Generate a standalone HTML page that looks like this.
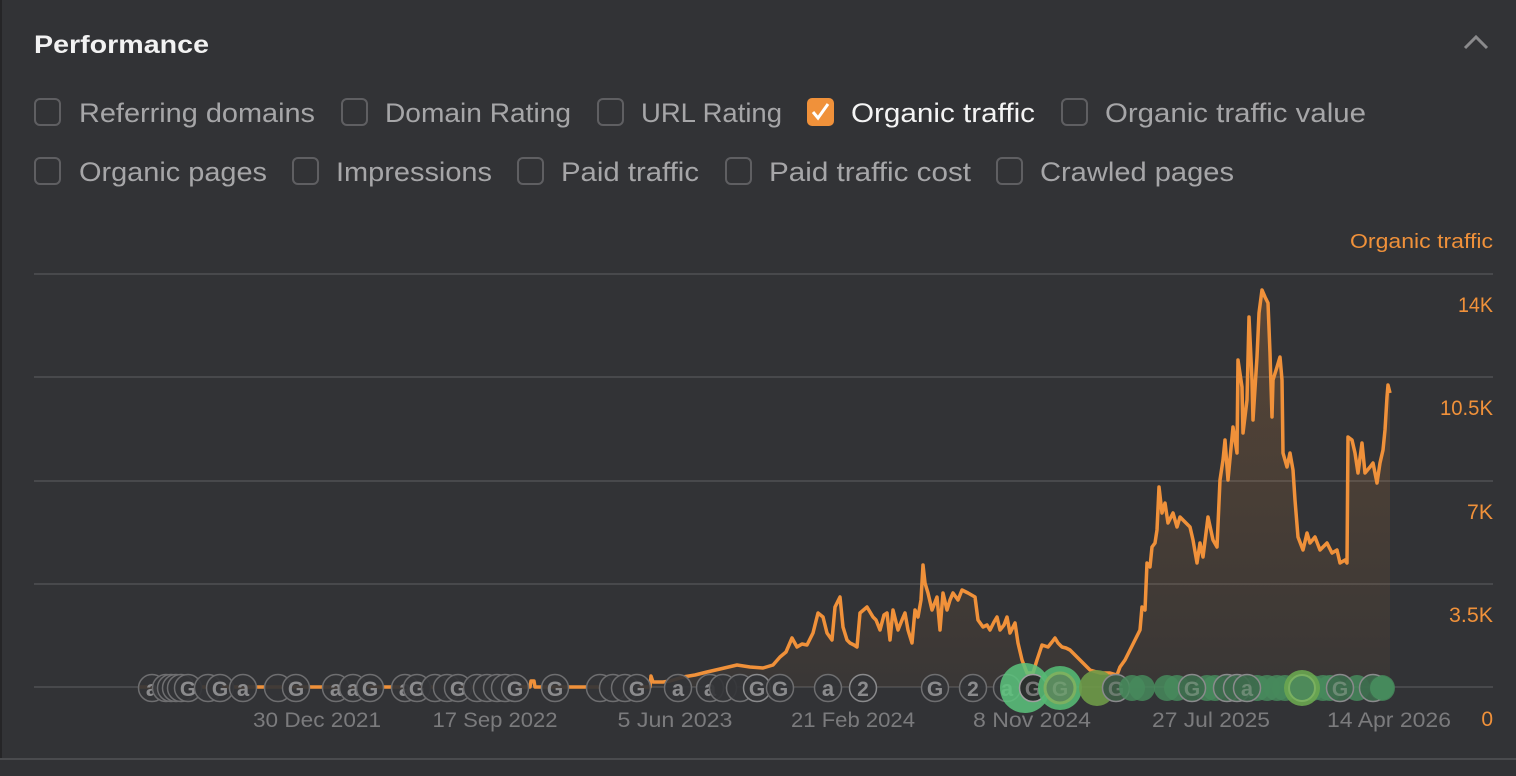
<!DOCTYPE html>
<html><head><meta charset="utf-8"><style>
html,body{margin:0;padding:0;background:#323336;width:1516px;height:776px;overflow:hidden}
svg{display:block}
text{font-family:"Liberation Sans",Arial,sans-serif}
.gm circle{fill:#333437;fill-opacity:0.92;stroke:#6e6e70;stroke-width:1.5}
.gm text{font-size:21px;font-weight:bold;fill:#8b8b8d;text-anchor:middle}
.gm text.a{font-size:22px}
</style></head><body>
<svg width="1516" height="776" viewBox="0 0 1516 776" xmlns="http://www.w3.org/2000/svg">
<defs>
<linearGradient id="ag" x1="0" y1="290" x2="0" y2="687" gradientUnits="userSpaceOnUse">
<stop offset="0" stop-color="#f0913a" stop-opacity="0.2"/>
<stop offset="1" stop-color="#f0913a" stop-opacity="0.04"/>
</linearGradient>
</defs>
<rect width="1516" height="776" fill="#323336"/>
<rect x="0" y="0" width="2" height="776" fill="#252527"/>
<rect x="0" y="758" width="1516" height="2" fill="#4a4b4e"/>
<rect x="0" y="760" width="1516" height="16" fill="#313235"/>

<text x="34" y="53" font-size="25" font-weight="bold" fill="#f2f2f2" textLength="175" lengthAdjust="spacingAndGlyphs">Performance</text>
<polyline points="1465,48 1476,37 1487,48" fill="none" stroke="#8a8a8c" stroke-width="3"/>

<g fill="none" stroke="#5f5f62" stroke-width="2">
<rect x="35" y="99" width="25" height="26" rx="5"/>
<rect x="342" y="99" width="25" height="26" rx="5"/>
<rect x="598" y="99" width="25" height="26" rx="5"/>
<rect x="1062" y="99" width="25" height="26" rx="5"/>
<rect x="35" y="158" width="25" height="26" rx="5"/>
<rect x="293" y="158" width="25" height="26" rx="5"/>
<rect x="518" y="158" width="25" height="26" rx="5"/>
<rect x="726" y="158" width="25" height="26" rx="5"/>
<rect x="997" y="158" width="25" height="26" rx="5"/>
</g>
<rect x="807" y="98" width="27" height="28" rx="5" fill="#f0913a"/>
<polyline points="813,112 818,118 828,104" fill="none" stroke="#fff" stroke-width="3"/>

<g font-size="27" fill="#a6a6a8">
<text x="79" y="122" textLength="236" lengthAdjust="spacingAndGlyphs">Referring domains</text>
<text x="385" y="122" textLength="186" lengthAdjust="spacingAndGlyphs">Domain Rating</text>
<text x="641" y="122" textLength="141" lengthAdjust="spacingAndGlyphs">URL Rating</text>
<text x="851" y="122" textLength="184" lengthAdjust="spacingAndGlyphs" fill="#f4f4f4">Organic traffic</text>
<text x="1105" y="122" textLength="261" lengthAdjust="spacingAndGlyphs">Organic traffic value</text>
<text x="79" y="181" textLength="188" lengthAdjust="spacingAndGlyphs">Organic pages</text>
<text x="336" y="181" textLength="156" lengthAdjust="spacingAndGlyphs">Impressions</text>
<text x="561" y="181" textLength="138" lengthAdjust="spacingAndGlyphs">Paid traffic</text>
<text x="769" y="181" textLength="202" lengthAdjust="spacingAndGlyphs">Paid traffic cost</text>
<text x="1040" y="181" textLength="194" lengthAdjust="spacingAndGlyphs">Crawled pages</text>
</g>

<text x="1493" y="248" font-size="20" fill="#f0913a" text-anchor="end" textLength="143" lengthAdjust="spacingAndGlyphs">Organic traffic</text>

<g stroke="#48494c" stroke-width="2">
<line x1="34" y1="274" x2="1493" y2="274"/>
<line x1="34" y1="377" x2="1493" y2="377"/>
<line x1="34" y1="481" x2="1493" y2="481"/>
<line x1="34" y1="584" x2="1493" y2="584"/>
<line x1="34" y1="687" x2="1493" y2="687"/>
</g>

<g font-size="21" fill="#f0913a" text-anchor="end">
<text x="1493" y="312" textLength="35" lengthAdjust="spacingAndGlyphs">14K</text>
<text x="1493" y="415" textLength="53" lengthAdjust="spacingAndGlyphs">10.5K</text>
<text x="1493" y="519" textLength="26" lengthAdjust="spacingAndGlyphs">7K</text>
<text x="1493" y="622" textLength="44" lengthAdjust="spacingAndGlyphs">3.5K</text>
<text x="1493" y="726">0</text>
</g>

<g font-size="21" fill="#7b7b7d" text-anchor="middle">
<text x="317" y="727" textLength="128" lengthAdjust="spacingAndGlyphs">30 Dec 2021</text>
<text x="495" y="727" textLength="125" lengthAdjust="spacingAndGlyphs">17 Sep 2022</text>
<text x="675" y="727" textLength="115" lengthAdjust="spacingAndGlyphs">5 Jun 2023</text>
<text x="853" y="727" textLength="124" lengthAdjust="spacingAndGlyphs">21 Feb 2024</text>
<text x="1032" y="727" textLength="118" lengthAdjust="spacingAndGlyphs">8 Nov 2024</text>
<text x="1211" y="727" textLength="118" lengthAdjust="spacingAndGlyphs">27 Jul 2025</text>
<text x="1389" y="727" textLength="124" lengthAdjust="spacingAndGlyphs">14 Apr 2026</text>
</g>

<path fill="url(#ag)" d="M138,687 L530,687 L531,681 L534,681 L535,687 L650,687 L651,676 L653,682 L663,682 L670,681 L683,677 L695,675 L707,672 L720,669 L737,665 L750,667 L763,668 L773,665 L780,657 L786,652 L792,638 L797,647 L802,644 L807,645 L813,633 L818,613 L823,617 L827,633 L832,640 L835,607 L840,597 L843,627 L847,640 L850,643 L854,645 L857,647 L860,613 L867,607 L873,617 L876,620 L880,630 L884,615 L887,613 L890,640 L893,610 L898,630 L902,620 L905,613 L908,630 L912,643 L915,610 L918,617 L921,600 L923,565 L925,583 L928,593 L932,610 L937,597 L940,630 L943,593 L947,610 L950,600 L953,593 L958,600 L962,590 L968,593 L975,597 L978,620 L983,627 L987,625 L990,630 L994,622 L997,617 L1000,630 L1004,625 L1007,617 L1010,633 L1015,623 L1018,643 L1022,660 L1027,673 L1033,673 L1037,660 L1042,645 L1048,647 L1052,642 L1055,638 L1058,643 L1062,647 L1066,648 L1070,650 L1075,655 L1080,660 L1085,665 L1090,670 L1100,673 L1110,673 L1117,675 L1120,667 L1125,660 L1130,650 L1135,640 L1140,630 L1142,607 L1145,610 L1147,563 L1150,567 L1152,547 L1155,543 L1157,530 L1159,487 L1162,513 L1165,503 L1168,523 L1173,513 L1177,527 L1180,517 L1185,522 L1190,527 L1193,540 L1197,563 L1200,543 L1203,557 L1208,517 L1213,540 L1217,547 L1220,480 L1223,460 L1225,440 L1228,480 L1233,427 L1237,453 L1238,360 L1242,387 L1243,433 L1247,400 L1249,317 L1252,380 L1253,420 L1257,357 L1259,313 L1262,290 L1265,297 L1268,303 L1270,353 L1272,417 L1273,380 L1277,367 L1280,357 L1282,380 L1283,453 L1287,467 L1290,453 L1293,470 L1295,500 L1298,537 L1303,550 L1307,533 L1310,543 L1315,537 L1320,550 L1327,543 L1332,553 L1337,550 L1340,563 L1345,560 L1347,563 L1348,437 L1352,440 L1355,453 L1358,473 L1362,443 L1365,473 L1370,467 L1373,463 L1377,483 L1380,463 L1383,450 L1385,430 L1387,397 L1388,385 L1390,393 L1390,687 Z"/>
<path fill="none" stroke="#f0913a" stroke-width="3.5" stroke-linejoin="round" d="M138,687 L530,687 L531,681 L534,681 L535,687 L650,687 L651,676 L653,682 L663,682 L670,681 L683,677 L695,675 L707,672 L720,669 L737,665 L750,667 L763,668 L773,665 L780,657 L786,652 L792,638 L797,647 L802,644 L807,645 L813,633 L818,613 L823,617 L827,633 L832,640 L835,607 L840,597 L843,627 L847,640 L850,643 L854,645 L857,647 L860,613 L867,607 L873,617 L876,620 L880,630 L884,615 L887,613 L890,640 L893,610 L898,630 L902,620 L905,613 L908,630 L912,643 L915,610 L918,617 L921,600 L923,565 L925,583 L928,593 L932,610 L937,597 L940,630 L943,593 L947,610 L950,600 L953,593 L958,600 L962,590 L968,593 L975,597 L978,620 L983,627 L987,625 L990,630 L994,622 L997,617 L1000,630 L1004,625 L1007,617 L1010,633 L1015,623 L1018,643 L1022,660 L1027,673 L1033,673 L1037,660 L1042,645 L1048,647 L1052,642 L1055,638 L1058,643 L1062,647 L1066,648 L1070,650 L1075,655 L1080,660 L1085,665 L1090,670 L1100,673 L1110,673 L1117,675 L1120,667 L1125,660 L1130,650 L1135,640 L1140,630 L1142,607 L1145,610 L1147,563 L1150,567 L1152,547 L1155,543 L1157,530 L1159,487 L1162,513 L1165,503 L1168,523 L1173,513 L1177,527 L1180,517 L1185,522 L1190,527 L1193,540 L1197,563 L1200,543 L1203,557 L1208,517 L1213,540 L1217,547 L1220,480 L1223,460 L1225,440 L1228,480 L1233,427 L1237,453 L1238,360 L1242,387 L1243,433 L1247,400 L1249,317 L1252,380 L1253,420 L1257,357 L1259,313 L1262,290 L1265,297 L1268,303 L1270,353 L1272,417 L1273,380 L1277,367 L1280,357 L1282,380 L1283,453 L1287,467 L1290,453 L1293,470 L1295,500 L1298,537 L1303,550 L1307,533 L1310,543 L1315,537 L1320,550 L1327,543 L1332,553 L1337,550 L1340,563 L1345,560 L1347,563 L1348,437 L1352,440 L1355,453 L1358,473 L1362,443 L1365,473 L1370,467 L1373,463 L1377,483 L1380,463 L1383,450 L1385,430 L1387,397 L1388,385 L1390,393"/>

<g class="gm">
<circle cx="152" cy="688" r="13.5"/><text class="a" x="152" y="696">a</text>
<circle cx="166" cy="688" r="13.5"/>
<circle cx="171" cy="688" r="13.5"/>
<circle cx="176" cy="688" r="13.5"/>
<circle cx="181" cy="688" r="13.5"/>
<circle cx="188" cy="688" r="13.5"/><text x="188" y="696">G</text>
<circle cx="208" cy="688" r="13.5"/>
<circle cx="220" cy="688" r="13.5"/><text x="220" y="696">G</text>
<circle cx="243" cy="688" r="13.5"/><text class="a" x="243" y="696">a</text>
<circle cx="278" cy="688" r="13.5"/>
<circle cx="296" cy="688" r="13.5"/><text x="296" y="696">G</text>
<circle cx="336" cy="688" r="13.5"/><text class="a" x="336" y="696">a</text>
<circle cx="353" cy="688" r="13.5"/><text class="a" x="353" y="696">a</text>
<circle cx="370" cy="688" r="13.5"/><text x="370" y="696">G</text>
<circle cx="405" cy="688" r="13.5"/><text class="a" x="405" y="696">a</text>
<circle cx="417" cy="688" r="13.5"/><text x="417" y="696">G</text>
<circle cx="435" cy="688" r="13.5"/>
<circle cx="447" cy="688" r="13.5"/>
<circle cx="458" cy="688" r="13.5"/><text x="458" y="696">G</text>
<circle cx="477" cy="688" r="13.5"/>
<circle cx="487" cy="688" r="13.5"/>
<circle cx="497" cy="688" r="13.5"/>
<circle cx="505" cy="688" r="13.5"/>
<circle cx="515" cy="688" r="13.5"/><text x="515" y="696">G</text>
<circle cx="555" cy="688" r="13.5"/><text x="555" y="696">G</text>
<circle cx="600" cy="688" r="13.5"/>
<circle cx="613" cy="688" r="13.5"/>
<circle cx="625" cy="688" r="13.5"/>
<circle cx="637" cy="688" r="13.5"/><text x="637" y="696">G</text>
<circle cx="678" cy="688" r="13.5"/><text class="a" x="678" y="696">a</text>
<circle cx="710" cy="688" r="13.5"/><text class="a" x="710" y="696">a</text>
<circle cx="723" cy="688" r="13.5"/>
<circle cx="740" cy="688" r="13.5"/>
<circle cx="757" cy="688" r="13.5" style="stroke:#8a8a8c"/><text x="757" y="696">G</text>
<circle cx="780" cy="688" r="13.5"/><text x="780" y="696">G</text>
<circle cx="828" cy="688" r="13.5"/><text class="a" x="828" y="696">a</text>
<circle cx="863" cy="688" r="13.5" style="stroke:#8a8a8c"/><text x="863" y="696">2</text>
<circle cx="935" cy="688" r="13.5"/><text x="935" y="696">G</text>
<circle cx="973" cy="688" r="13.5"/><text x="973" y="696">2</text>
<circle cx="1007" cy="688" r="13.5"/><text class="a" x="1007" y="696">a</text>
</g>

<g>
<circle cx="1025" cy="688" r="25" fill="#5cc47c" fill-opacity="0.85"/>
<circle cx="1033" cy="688" r="13.5" fill="#2c302e" stroke="#a0a0a0" stroke-width="1.5"/>
<text x="1033" y="696" font-size="21" font-weight="bold" fill="#777" text-anchor="middle">G</text>
<circle cx="1060" cy="688" r="22" fill="#55b873" fill-opacity="0.9"/>
<circle cx="1060" cy="688" r="15" fill="#5a8a5e" stroke="#7cb060" stroke-width="3"/>
<text x="1060" y="696" font-size="21" font-weight="bold" fill="#6f9a70" text-anchor="middle">G</text>
<circle cx="1097" cy="688" r="18" fill="#6e9a48" fill-opacity="0.9"/>
<circle cx="1116" cy="688" r="13.5" fill="#3d5a45" stroke="#8a8a8c" stroke-width="1.5"/>
<text x="1116" y="696" font-size="21" font-weight="bold" fill="#6c7c70" text-anchor="middle">G</text>
<g fill="#468a5c" fill-opacity="0.85">
<circle cx="1132" cy="688" r="13"/><circle cx="1142" cy="688" r="13"/>
<circle cx="1167" cy="688" r="13"/><circle cx="1177" cy="688" r="13"/>
<circle cx="1207" cy="688" r="13"/><circle cx="1215" cy="688" r="13"/>
<circle cx="1257" cy="688" r="13"/><circle cx="1267" cy="688" r="13"/>
<circle cx="1277" cy="688" r="13"/><circle cx="1285" cy="688" r="13"/>
<circle cx="1312" cy="688" r="13"/><circle cx="1323" cy="688" r="13"/>
<circle cx="1330" cy="688" r="13"/><circle cx="1357" cy="688" r="13"/>
<circle cx="1382" cy="688" r="13"/>
</g>
<g fill="#3d6a4c" fill-opacity="0.9" stroke="#8a8a8c" stroke-width="1.5">
<circle cx="1192" cy="688" r="13.5"/>
<circle cx="1227" cy="688" r="13.5"/>
<circle cx="1237" cy="688" r="13.5"/>
<circle cx="1247" cy="688" r="13.5"/>
<circle cx="1340" cy="688" r="13.5"/>
<circle cx="1373" cy="688" r="13.5"/>
</g>
<circle cx="1382" cy="688" r="12" fill="#468a5c"/>
<g font-size="21" font-weight="bold" fill="#6c8a74" text-anchor="middle">
<text x="1192" y="696">G</text><text x="1247" y="696" font-size="22">a</text><text x="1340" y="696">G</text>
</g>
<circle cx="1302" cy="688" r="18" fill="#6aa650" fill-opacity="0.9"/>
<circle cx="1302" cy="688" r="13" fill="#4e8a5a" stroke="#7ab060" stroke-width="2"/>
</g>
</svg>
</body></html>
